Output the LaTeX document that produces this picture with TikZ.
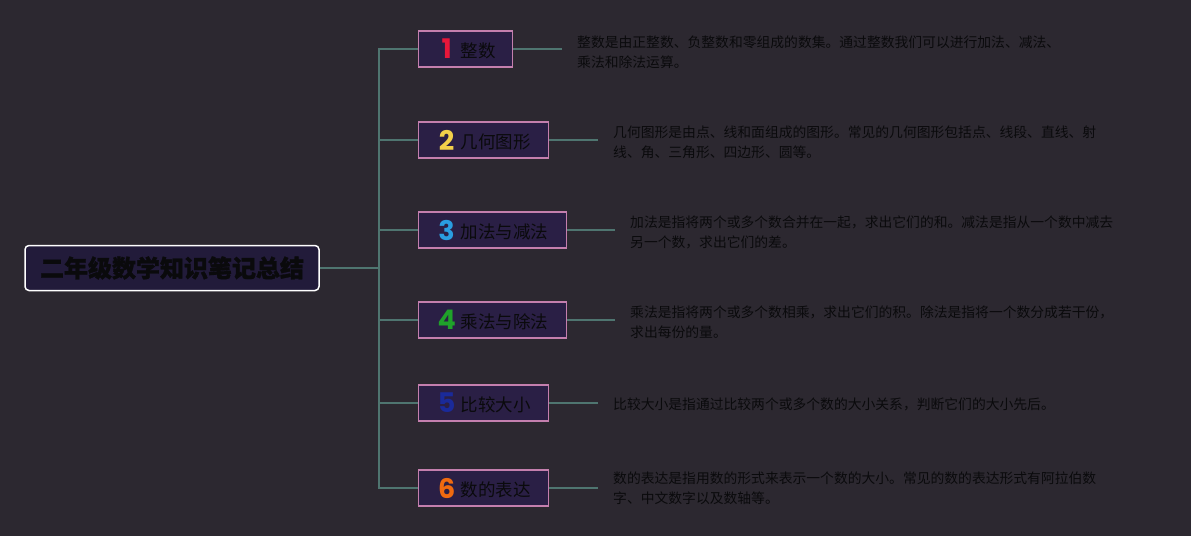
\documentclass[tikz,border=0pt]{standalone}
\usepackage{fontspec}
\setmainfont{Noto Sans CJK SC}
\newfontfamily\rootfont[BoldFeatures={FakeBold=1.2}]{Noto Sans CJK SC}
\newfontfamily\numfont{Poppins}
\definecolor{bg}{HTML}{2C2830}
\definecolor{rootfill}{HTML}{221B3A}
\definecolor{leaffill}{HTML}{2A1F45}
\definecolor{leafdraw}{HTML}{C47FAE}
\definecolor{conncol}{HTML}{4F7570}
\definecolor{ink}{HTML}{0A0A0C}
\definecolor{c1}{HTML}{E8173A}
\definecolor{c2}{HTML}{F2D04A}
\definecolor{c3}{HTML}{2A9DE0}
\definecolor{c4}{HTML}{1FA22A}
\definecolor{c5}{HTML}{1A2A9A}
\definecolor{c6}{HTML}{F06A10}
\newcommand{\lf}[2]{\makebox[26pt][c]{\raisebox{-1.5pt}{\fontsize{27}{27}\selectfont\numfont\bfseries\color{#1}#2}}\hspace{1pt}}
\begin{document}
\begin{tikzpicture}[x=1pt,y=-1pt,
  rootbox/.style={draw=white,line width=1.5pt,fill=rootfill,rounded corners=4pt,
    minimum width=294pt,minimum height=45pt,text=ink,font=\fontsize{24}{24}\rootfont\bfseries},
  leafbox/.style={draw=leafdraw,line width=1.3pt,fill=leaffill,minimum height=36pt,
    inner xsep=15pt,anchor=west,align=left,text=ink,font=\fontsize{17.5}{17.5}\selectfont},
  desc/.style={anchor=west,align=left,text=ink,inner xsep=15pt,inner ysep=0pt,
    font=\fontsize{13.8}{20}\selectfont},
  conn/.style={draw=conncol,line width=1.3pt}]
\fill[bg] (0,0) rectangle (1191,536);
\useasboundingbox (0,0) rectangle (1191,536);
\node[rootbox] (root) at (172,268) {二年级数学知识笔记总结};
\node[leafbox,text width=64pt] (n1) at (418,49) {\lf{c1}{1}整数};
\node[leafbox,text width=100pt] (n2) at (418,140) {\lf{c2}{2}几何图形};
\node[leafbox,text width=118pt] (n3) at (418,230) {\lf{c3}{3}加法与减法};
\node[leafbox,text width=118pt] (n4) at (418,320) {\lf{c4}{4}乘法与除法};
\node[leafbox,text width=100pt] (n5) at (418,403) {\lf{c5}{5}比较大小};
\node[leafbox,text width=100pt] (n6) at (418,488) {\lf{c6}{6}数的表达};
\node[desc] (d1) at (562,52) {整数是由正整数、负整数和零组成的数集。通过整数我们可以进行加法、减法、\\乘法和除法运算。};
\node[desc] (d2) at (598,142) {几何图形是由点、线和面组成的图形。常见的几何图形包括点、线段、直线、射\\线、角、三角形、四边形、圆等。};
\node[desc] (d3) at (615,232) {加法是指将两个或多个数合并在一起，求出它们的和。减法是指从一个数中减去\\另一个数，求出它们的差。};
\node[desc] (d4) at (615,322) {乘法是指将两个或多个数相乘，求出它们的积。除法是指将一个数分成若干份，\\求出每份的量。};
\node[desc] (d5) at (598,404) {比较大小是指通过比较两个或多个数的大小关系，判断它们的大小先后。};
\node[desc] (d6) at (598,488) {数的表达是指用数的形式来表示一个数的大小。常见的数的表达形式有阿拉伯数\\字、中文数字以及数轴等。};
\coordinate (tr) at (379,268);
\draw[conn] (root.east) -- (tr);
\foreach \i in {1,...,6}{
  \draw[conn] (tr) |- (n\i.west);
  \draw[conn] (n\i.east) -- (n\i.east -| d\i.west);
}
\end{tikzpicture}
\end{document}
